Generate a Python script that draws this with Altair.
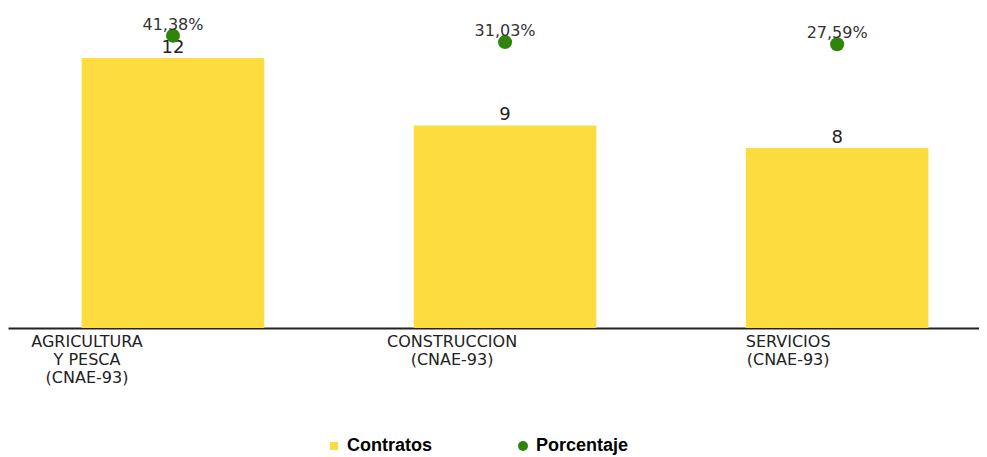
import altair as alt
import pandas as pd

categorias = ["AGRICULTURA\nY PESCA\n(CNAE-93)", "CONSTRUCCION\n(CNAE-93)", "SERVICIOS\n(CNAE-93)"]
contratos = [12, 9, 8]
porcentajes = [41.38, 31.03, 27.59]
etiquetas_pct = ["41,38%", "31,03%", "27,59%"]
series = ["Contratos", "Porcentaje"]
colores = ["#FDDC40", "#2F850A"]

df = pd.DataFrame({
    "cat": categorias,
    "contratos": contratos,
    "pct": porcentajes,
    "pct_label": etiquetas_pct,
    "s_pt": [series[1]] * len(categorias),
})

color_scale = alt.Scale(domain=series, range=colores)
shape_scale = alt.Scale(domain=series, range=["M-0.8,-0.8H0.8V0.8H-0.8Z", "circle"])

label_offset = {
    "condition": [
        {"test": "indexof(datum.value, 'AGRIC') == 0", "value": -86},
        {"test": "indexof(datum.value, 'CONST') == 0", "value": -53},
    ],
    "value": -49,
}

x_enc = alt.X(
    "cat:N",
    sort=categorias,
    scale=alt.Scale(paddingInner=0.45, paddingOuter=0.187, align=0.593),
    axis=alt.Axis(
        title=None,
        labelExpr="split(datum.label, '\\n')",
        labelAngle=0,
        ticks=False,
        grid=False,
        domainColor="#222222",
        domainWidth=2,
        labelFont="DejaVu Sans",
        labelFontSize=16,
        labelColor="#222222",
        labelPadding=5,
        labelLineHeight=18,
        labelOffset=label_offset,
    ),
)

y_bar = alt.Y("contratos:Q", scale=alt.Scale(domain=[0, 14.22]), axis=None)
y_pct = alt.Y("pct:Q", scale=alt.Scale(domain=[-427, 85.7]), axis=None)

legend = alt.Legend(
    title=None,
    orient="none",
    legendX=317,
    legendY=429,
    direction="horizontal",
    symbolSize=100,
    symbolStrokeWidth=0,
    labelFont="Liberation Sans",
    labelFontWeight="bold",
    labelFontSize=18,
    labelColor="#000000",
    labelOffset=4,
    columnPadding=82,
)

base = alt.Chart(df)

bars = base.mark_bar().encode(
    x=x_enc,
    y=y_bar,
    color=alt.value(colores[0]),
)

bar_text = base.mark_text(
    font="DejaVu Sans", fontSize=18, color="#222222", baseline="alphabetic", dy=-5
).encode(x=x_enc, y=y_bar, text="contratos:Q")

points = base.mark_point(filled=True, opacity=1, size=196).encode(
    x=x_enc,
    y=y_pct,
    color=alt.Color("s_pt:N", scale=color_scale, legend=legend),
    shape=alt.Shape("s_pt:N", scale=shape_scale, legend=legend),
)

pct_text = base.mark_text(
    font="DejaVu Sans", fontSize=16, color="#333333", baseline="alphabetic", dy=-6
).encode(x=x_enc, y=y_pct, text="pct_label:N")

chart = (
    alt.layer(bars, bar_text, points, pct_text)
    .resolve_scale(y="independent")
    .properties(width=971, height=320, padding=0, background="white")
    .configure_view(stroke=None)
)

chart.save("out.html", embed_options={"renderer": "svg", "actions": False})
